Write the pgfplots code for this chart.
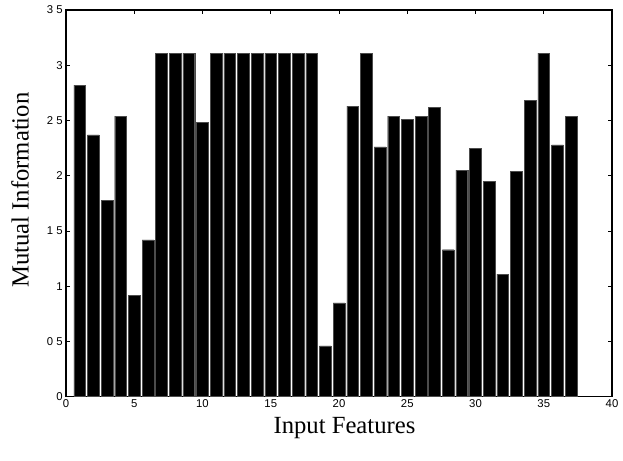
\documentclass[border=0pt]{standalone}
\usepackage{pgfplots}
\pgfplotsset{compat=1.18}
\usepackage{fontspec}
\setmainfont{Liberation Serif}
\newfontfamily\ticksans{Liberation Sans}
\usetikzlibrary{calc}
\begin{document}
\begin{tikzpicture}
\begin{axis}[
  scale only axis,
  width=409.5pt, height=290pt,
  xmin=0, xmax=40, ymin=0, ymax=3.5,
  xtick={0,5,...,40},
  ytick={0,0.5,1,1.5,2,2.5,3,3.5},
  yticklabels={0,0 5,1,1 5,2,2 5,3,3 5},
  tick align=inside,
  major tick length=3pt,
  tick style={black, line width=0.5pt},
  axis line style={line width=0.8pt},
  /pgf/number format/assume math mode=true,
  ticklabel style={font=\ticksans\fontsize{8.5}{9}\selectfont},
  xticklabel style={yshift=1pt},
  yticklabel style={xshift=1pt},
  xlabel={Input Features},
  ylabel={Mutual Information},
  label style={font=\fontsize{18.5}{20}\selectfont},
  xlabel style={at={(axis description cs:0.51,-0.08)}, anchor=center},
  ylabel style={at={(axis description cs:-0.084,0.534)}, anchor=center},
]
\addplot[ybar, bar width=0.86, fill=black, draw=black!70, line width=0.3pt] coordinates {
(1,2.82) (2,2.37) (3,1.78) (4,2.54) (5,0.92) (6,1.42) (7,3.11) (8,3.11) (9,3.11) (10,2.48)
(11,3.11) (12,3.11) (13,3.11) (14,3.11) (15,3.11) (16,3.11) (17,3.11) (18,3.11)
(19,0.46) (20,0.85) (21,2.63) (22,3.11) (23,2.26) (24,2.54) (25,2.51) (26,2.54) (27,2.62)
(28,1.33) (29,2.05) (30,2.25) (31,1.95) (32,1.11) (33,2.04) (34,2.68) (35,3.11) (36,2.28) (37,2.54)
};
\end{axis}
\pgfresetboundingbox
\path[use as bounding box] ($(current axis.south west)+(-49.5pt,-48pt)$) rectangle ($(current axis.north east)+(8.25pt,7.5pt)$);
\end{tikzpicture}
\end{document}
